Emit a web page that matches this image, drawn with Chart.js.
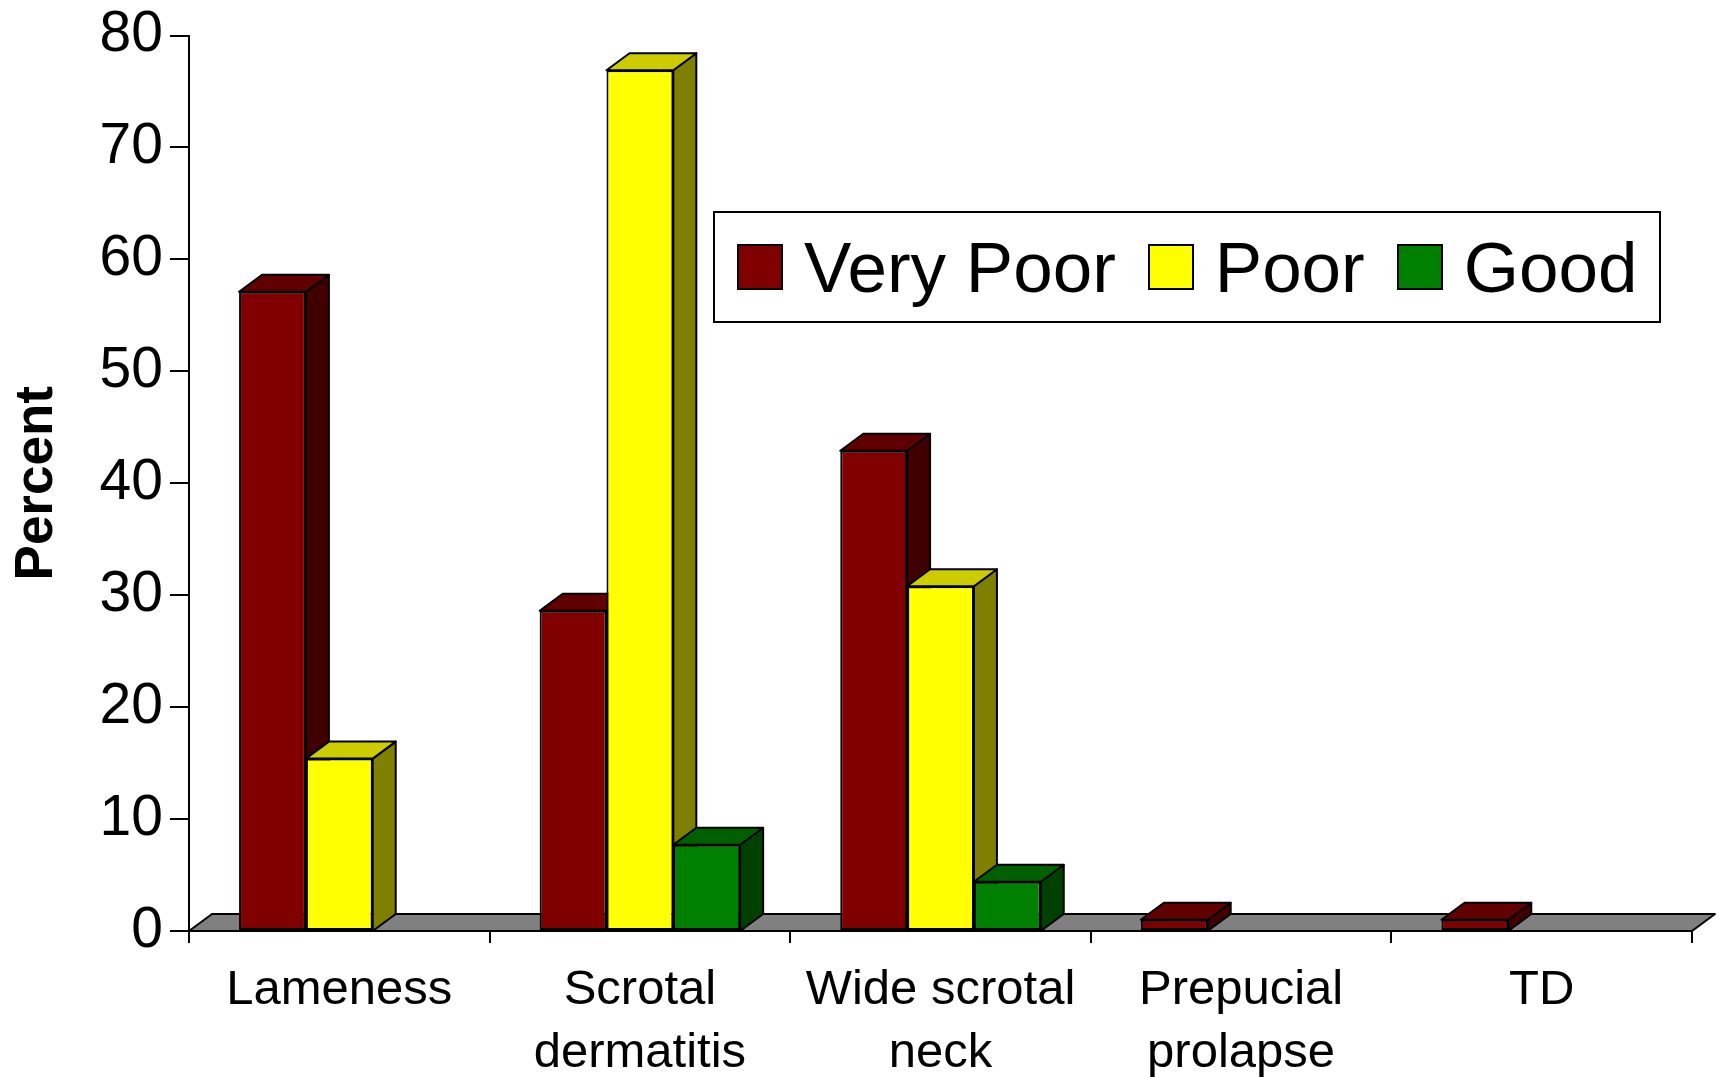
<!DOCTYPE html>
<html>
<head>
<meta charset="utf-8">
<script src="https://cdn.jsdelivr.net/npm/chart.js@4"></script>
<style>
  body { margin:0; background:#fff; }
  #wrap { position:relative; width:1725px; height:1077px; }
  #legend {
    position:absolute; left:713px; top:211px; width:948px; height:112px;
    border:2px solid #000; background:#fff; box-sizing:border-box;
    display:flex; align-items:center; padding-left:22px; white-space:nowrap; overflow:hidden;
    font-family:"Liberation Sans", Arial, sans-serif; font-size:71px; color:#000;
  }
  #legend .item { display:flex; align-items:center; margin-right:32px; flex:none; }
  #legend .item:last-child { margin-right:0; }
  #legend .sw { width:46px; height:46px; border:2px solid #000; margin-right:21px; box-sizing:border-box; flex:none; }
</style>
</head>
<body>
<div id="wrap">
  <canvas id="myChart" width="1725" height="1077"></canvas>
  <div id="legend"></div>
</div>
<script>
// data
var categories = [['Lameness'], ['Scrotal', 'dermatitis'], ['Wide scrotal', 'neck'], ['Prepucial', 'prolapse'], ['TD']]
var seriesNames = ['Very Poor', 'Poor', 'Good']
var veryPoor = [57.1, 28.6, 42.9, 1.0, 1.0]
var poor = [15.4, 76.9, 30.8, null, null]
var good = [null, 7.7, 4.4, null, null]
var yTicks = [0, 10, 20, 30, 40, 50, 60, 70, 80]

var frontColors = ['#800000', '#ffff00', '#008000']
var topColors = ['#600000', '#cccc00', '#006000']
var sideColors = ['#400000', '#808000', '#004000']
var dx = 23, dy = 17

// draws floor + top/side faces behind the fronts that chart.js draws
const box3d = {
  id: 'box3d',
  beforeDatasetsDraw(chart) {
    const ctx = chart.ctx
    const a = chart.chartArea
    const y0 = chart.scales.y.getPixelForValue(0)
    ctx.save()
    ctx.lineWidth = 2
    ctx.strokeStyle = '#000'
    ctx.lineJoin = 'round'
    ctx.beginPath()
    ctx.moveTo(a.left, y0)
    ctx.lineTo(a.right, y0)
    ctx.lineTo(a.right + dx, y0 - dy)
    ctx.lineTo(a.left + dx, y0 - dy)
    ctx.closePath()
    ctx.fillStyle = '#808080'
    ctx.fill()
    ctx.stroke()
    for (let i = 0; i < categories.length; i++) {
      for (let d = 0; d < chart.data.datasets.length; d++) {
        const v = chart.data.datasets[d].data[i]
        if (v == null) continue
        const el = chart.getDatasetMeta(d).data[i]
        const l = el.x - el.width / 2, r = el.x + el.width / 2, t = el.y
        // side
        ctx.beginPath()
        ctx.moveTo(r, t)
        ctx.lineTo(r + dx, t - dy)
        ctx.lineTo(r + dx, y0 - dy)
        ctx.lineTo(r, y0)
        ctx.closePath()
        ctx.fillStyle = sideColors[d]
        ctx.fill()
        ctx.stroke()
        // top
        ctx.beginPath()
        ctx.moveTo(l, t)
        ctx.lineTo(l + dx, t - dy)
        ctx.lineTo(r + dx, t - dy)
        ctx.lineTo(r, t)
        ctx.closePath()
        ctx.fillStyle = topColors[d]
        ctx.fill()
        ctx.stroke()
      }
    }
    ctx.restore()
  }
}

const allSeries = [veryPoor, poor, good]
const data = {
  labels: categories,
  datasets: allSeries.map((s, k) => ({
    label: seriesNames[k],
    data: s,
    backgroundColor: frontColors[k],
    borderColor: '#000',
    borderWidth: 2,
    borderSkipped: false,
    barPercentage: 1,
    categoryPercentage: 0.667
  }))
}

const config = {
  type: 'bar',
  data: data,
  options: {
    responsive: false,
    devicePixelRatio: 1,
    animation: false,
    layout: { padding: { top: 31, right: 33, left: 0, bottom: 0 } },
    plugins: { legend: { display: false }, tooltip: { enabled: false } },
    scales: {
      x: {
        afterFit: (s) => { s.height = 146 },
        grid: { drawOnChartArea: false, drawTicks: true, tickLength: 12, color: '#000', lineWidth: 2 },
        border: { display: true, color: '#000', width: 2 },
        ticks: {
          color: '#000', padding: 16, maxRotation: 0, autoSkip: false,
          font: { family: '"Liberation Sans", Arial, sans-serif', size: 49, lineHeight: 1.29 }
        }
      },
      y: {
        min: 0, max: 80,
        afterFit: (s) => { s.width = 189 },
        afterBuildTicks: (s) => { s.ticks = yTicks.map(v => ({ value: v })) },
        grid: { drawOnChartArea: false, drawTicks: true, tickLength: 19, color: '#000', lineWidth: 2 },
        border: { display: true, color: '#000', width: 2 },
        title: {
          display: true, text: 'Percent', color: '#000', padding: { top: 8, bottom: 0 },
          font: { family: '"Liberation Sans", Arial, sans-serif', size: 53, weight: 'bold', lineHeight: 1.1 }
        },
        ticks: {
          color: '#000', padding: 7,
          font: { family: '"Liberation Sans", Arial, sans-serif', size: 57, lineHeight: 1 }
        }
      }
    }
  },
  plugins: [box3d]
}

var myChart = new Chart('myChart', config)

// legend built from the same arrays
var lg = document.getElementById('legend')
seriesNames.forEach((n, k) => {
  var it = document.createElement('div')
  it.className = 'item'
  var sw = document.createElement('div')
  sw.className = 'sw'
  sw.style.background = frontColors[k]
  var tx = document.createElement('span')
  tx.textContent = n
  it.appendChild(sw)
  it.appendChild(tx)
  lg.appendChild(it)
})
</script>
</body>
</html>
